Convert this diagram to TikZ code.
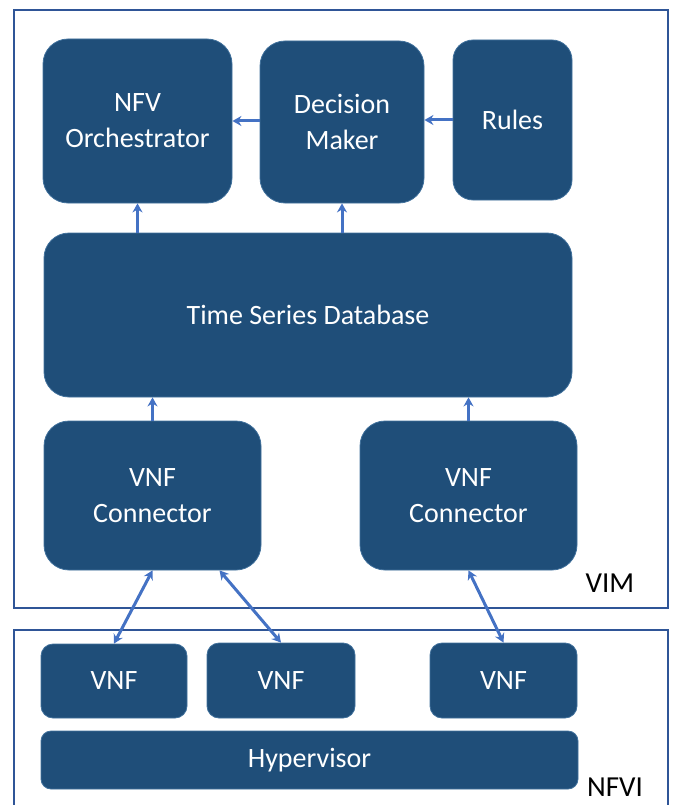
\documentclass[tikz,border=0pt]{standalone}
\usepackage{fontspec}
\setmainfont{Carlito}
\usetikzlibrary{arrows.meta}
\definecolor{boxblue}{HTML}{1F4E79}
\definecolor{boxedge}{HTML}{41719C}
\definecolor{flowblue}{HTML}{4472C4}
\definecolor{frameblue}{HTML}{2F5597}
\begin{document}
\begin{tikzpicture}[x=1pt,y=-1pt,
block/.style={fill=boxblue,draw=boxedge,line width=0.8pt,rounded corners=25pt,
  text=white,align=center,inner sep=0pt,font=\fontsize{28}{36}\selectfont},
small/.style={block,rounded corners=12pt},
frame/.style={draw=frameblue,line width=1.3pt},
flow/.style={draw=flowblue,line width=3pt,-{Stealth[length=9pt,width=10pt]}},
both/.style={flow,{Stealth[length=9pt,width=10pt]}-{Stealth[length=9pt,width=10pt]}},
tag/.style={font=\fontsize{29}{30}\selectfont,inner sep=0pt},
]
\useasboundingbox (0,0) rectangle (672,805);
% frames
\path[frame] (14,10) rectangle (668,608);
\path[frame] (14,630) rectangle (668,815);
\node[tag] (vim) at (610,583) {VIM};
\node[tag] (nfvi) at (615,787) {NFVI};
% VIM blocks
\node[block,minimum width=189pt,minimum height=164pt] (orch) at (137.5,121) {NFV\\Orchestrator};
\node[block,minimum width=164pt,minimum height=162pt] (dm) at (342,122) {Decision\\Maker};
\node[block,minimum width=119pt,minimum height=160pt,rounded corners=20pt] (rules) at (512.5,120) {Rules};
\node[block,minimum width=528pt,minimum height=164pt] (tsdb) at (308,315) {Time Series Database};
\node[block,minimum width=217pt,minimum height=149pt] (conna) at (152.5,495.5) {VNF\\Connector};
\node[block,minimum width=217pt,minimum height=149pt] (connb) at (468.5,495.5) {VNF\\Connector};
% NFVI blocks
\node[small,minimum width=146pt,minimum height=74pt] (vnfa) at (114,681) {VNF};
\node[small,minimum width=148pt,minimum height=75pt] (vnfb) at (281,680.5) {VNF};
\node[small,minimum width=147pt,minimum height=75pt] (vnfc) at (503.5,680.5) {VNF};
\node[small,minimum width=537pt,minimum height=58pt,rounded corners=10pt] (hyp) at (309.5,760) {Hypervisor};
% arrows
\draw[flow] (dm.west |- 0,121) -- (orch.east |- 0,121);
\draw[flow] (rules.west |- 0,120) -- (dm.east |- 0,120);
\draw[flow] (tsdb.north -| orch.south) -- (orch.south);
\draw[flow] (tsdb.north -| dm.south) -- (dm.south);
\draw[flow] (conna.north) -- (tsdb.south -| conna.north);
\draw[flow] (connb.north) -- (tsdb.south -| connb.north);
\draw[both] (conna.south) -- (vnfa.north);
\draw[both] ([xshift=67pt]conna.south) -- (vnfb.north);
\draw[both] (connb.south) -- (vnfc.north);
\end{tikzpicture}
\end{document}
